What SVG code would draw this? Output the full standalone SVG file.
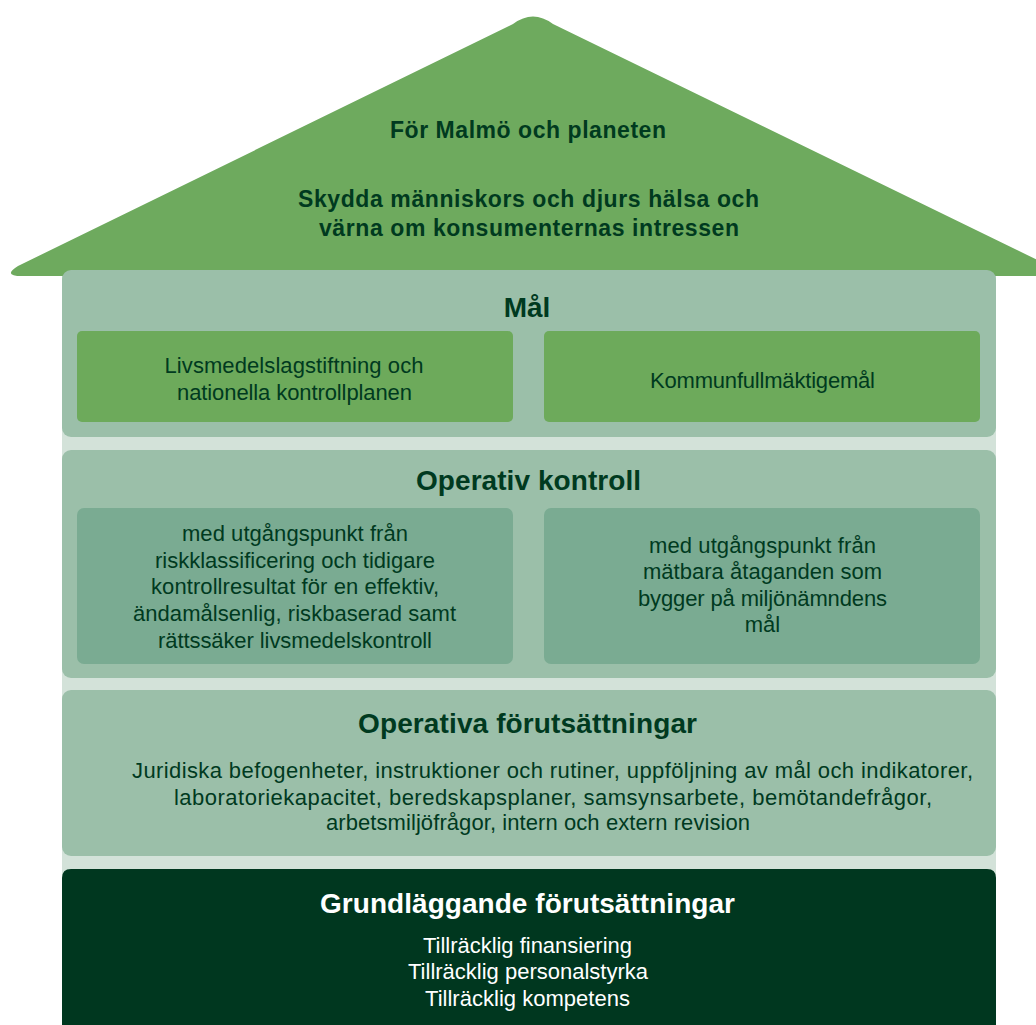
<svg xmlns="http://www.w3.org/2000/svg" width="1036" height="1025" viewBox="0 0 1036 1025">
<style>
.t{font-family:"Liberation Sans",Arial,sans-serif;fill:#003a1f;text-anchor:middle}
.h{font-size:28px;font-weight:bold}
.r{font-size:23px;font-weight:bold}
.b{font-size:22px}
.w{fill:#ffffff}
.sec{fill:#9bbfa9}
.g{fill:#6daa5b}
.o{fill:#7aab92}
</style>
<rect x="62" y="268" width="934" height="757" fill="#d3e2d9"/>
<g id="roof">
<path d="M1036,276 H22 Q2,276 18,266 L513,24 Q533,9 553,24 L1058,270 V276 Z" fill="#6eaa5e"/>
<text class="t r" x="528" y="138" textLength="276">För Malmö och planeten</text>
<text class="t r" x="528.5" y="207" textLength="461">Skydda människors och djurs hälsa och</text>
<text class="t r" x="529" y="236" textLength="420">värna om konsumenternas intressen</text>
</g>
<g id="mal">
<rect class="sec" x="62" y="270" width="934" height="167" rx="9"/>
<text class="t h" x="527" y="317">Mål</text>
</g>
<g id="mal-lag">
<rect class="g" x="77" y="331" width="436" height="91" rx="5"/>
<text class="t b" x="294" y="373" textLength="259">Livsmedelslagstiftning och</text>
<text class="t b" x="294.5" y="400" textLength="235">nationella kontrollplanen</text>
</g>
<g id="mal-kf">
<rect class="g" x="544" y="331" width="436" height="91" rx="5"/>
<text class="t b" x="762.5" y="388" textLength="225">Kommunfullmäktigemål</text>
</g>
<g id="operativ-kontroll">
<rect class="sec" x="62" y="450" width="934" height="228" rx="9"/>
<text class="t h" x="528.5" y="490" textLength="225">Operativ kontroll</text>
</g>
<g id="ok-risk">
<rect class="o" x="77" y="508" width="436" height="156" rx="7"/>
<text class="t b" x="295" y="541" textLength="226">med utgångspunkt från</text>
<text class="t b" x="295" y="568" textLength="280">riskklassificering och tidigare</text>
<text class="t b" x="295" y="594" textLength="288">kontrollresultat för en effektiv,</text>
<text class="t b" x="294.5" y="621" textLength="323">ändamålsenlig, riskbaserad samt</text>
<text class="t b" x="295" y="648" textLength="274">rättssäker livsmedelskontroll</text>
</g>
<g id="ok-mal">
<rect class="o" x="544" y="508" width="436" height="156" rx="7"/>
<text class="t b" x="762.5" y="553" textLength="227">med utgångspunkt från</text>
<text class="t b" x="762.5" y="579" textLength="239">mätbara åtaganden som</text>
<text class="t b" x="762.5" y="606" textLength="249">bygger på miljönämndens</text>
<text class="t b" x="762.5" y="632">mål</text>
</g>
<g id="operativa-forutsattningar">
<rect class="sec" x="62" y="690" width="934" height="166" rx="9"/>
<text class="t h" x="527.5" y="733" textLength="339">Operativa förutsättningar</text>
<text class="t b" x="552.5" y="778" textLength="841">Juridiska befogenheter, instruktioner och rutiner, uppföljning av mål och indikatorer,</text>
<text class="t b" x="553" y="805" textLength="758">laboratoriekapacitet, beredskapsplaner, samsynsarbete, bemötandefrågor,</text>
<text class="t b" x="538" y="830" textLength="424">arbetsmiljöfrågor, intern och extern revision</text>
</g>
<g id="grundlaggande-forutsattningar">
<path d="M62,1025 V878 Q62,869 71,869 H987 Q996,869 996,878 V1025 Z" fill="#00371f"/>
<text class="t h w" x="527.5" y="913" textLength="415">Grundläggande förutsättningar</text>
<text class="t b w" x="527.5" y="953" textLength="209">Tillräcklig finansiering</text>
<text class="t b w" x="528" y="979" textLength="240">Tillräcklig personalstyrka</text>
<text class="t b w" x="527.5" y="1006" textLength="205">Tillräcklig kompetens</text>
</g>
<g id="connectors"/>
</svg>
